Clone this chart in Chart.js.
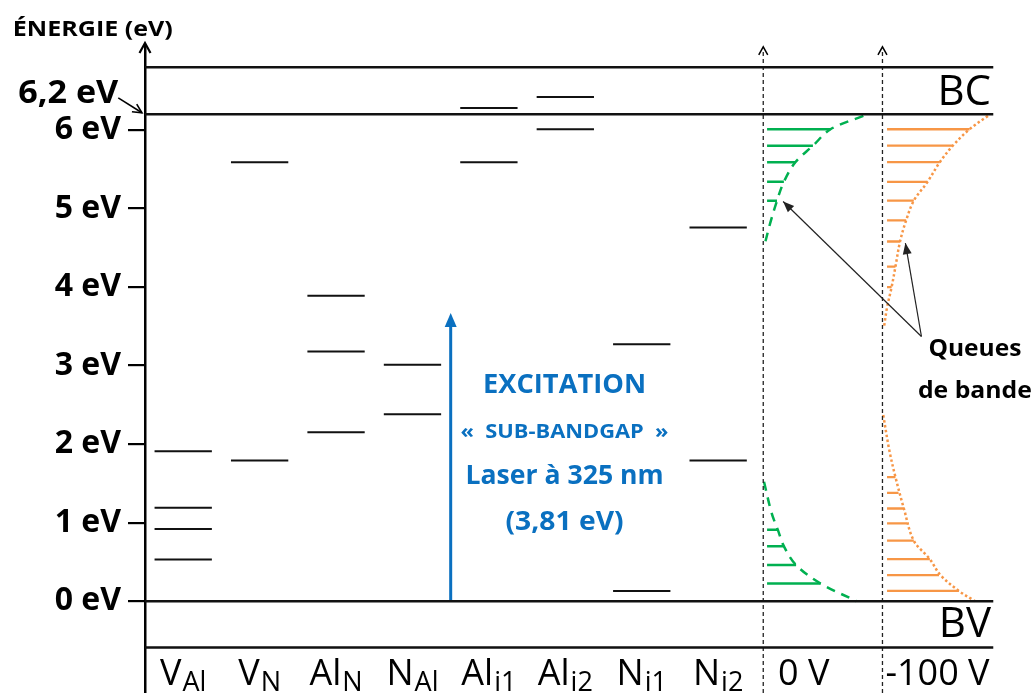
<!DOCTYPE html>
<html>
<head>
<meta charset="utf-8">
<script src="https://cdn.jsdelivr.net/npm/chart.js@4"></script>
<style>
html, body { margin: 0; padding: 0; background: #fff; }
</style>
</head>
<body>
<canvas id="energie" width="1035" height="693"></canvas>
<script>
// defect names : main letters + subscript
var defectBase = ['V', 'V', 'Al', 'N', 'Al', 'Al', 'N', 'N'];
var defectSub = ['Al', 'N', 'N', 'Al', 'i1', 'i2', 'i1', 'i2'];
// levels in eV, one list per defect
var defectLevels = [
    [1.91, 1.19, 0.92, 0.53],
    [5.59, 1.79],
    [3.89, 3.18, 2.15],
    [3.01, 2.38],
    [6.28, 5.59],
    [6.42, 6.01],
    [3.27, 0.13],
    [4.76, 1.79]
];
var bandLines = [6.8, 6.2, 0, -0.59];
var yTicks = [0, 1, 2, 3, 4, 5, 6];
var gapLabel = '6,2 eV';
var laserTop = 3.67;
var laserText = ['EXCITATION', '\u00ab  SUB-BANDGAP  \u00bb', 'Laser \u00e0 325 nm', '(3,81 eV)'];
var biasLabels = ['0 V', '-100 V'];

// band tails at 0 V (energy, width from the bias axis)
var cb0E = [6.18, 6.01, 5.80, 5.59, 5.34, 5.10, 4.81, 4.51];
var cb0W = [1.31, 0.88, 0.65, 0.42, 0.27, 0.18, 0.09, 0.01];
var vb0E = [1.52, 1.12, 0.91, 0.70, 0.46, 0.225, 0];
var vb0W = [0.01, 0.11, 0.19, 0.27, 0.43, 0.75, 1.22];
var cb0HatchE = [6.01, 5.80, 5.59, 5.34, 5.10];
var cb0HatchW = [0.88, 0.65, 0.42, 0.27, 0.18];
var vb0HatchE = [0.91, 0.70, 0.46, 0.225];
var vb0HatchW = [0.19, 0.27, 0.43, 0.75];

// band tails at -100 V
var cb100E = [6.18, 6.01, 5.80, 5.59, 5.34, 5.10, 4.85, 4.58, 4.26, 4.00, 3.74, 3.49];
var cb100W = [1.38, 1.14, 0.92, 0.75, 0.59, 0.41, 0.31, 0.23, 0.17, 0.12, 0.06, 0.02];
var vb100E = [2.37, 1.92, 1.58, 1.18, 0.77, 0.535, 0.33, 0.13, 0];
var vb100W = [0.01, 0.09, 0.17, 0.28, 0.41, 0.62, 0.76, 1.00, 1.21];
var cb100HatchE = [6.01, 5.80, 5.59, 5.34, 5.10, 4.85, 4.58, 4.26, 4.00];
var cb100HatchW = [1.14, 0.92, 0.75, 0.59, 0.41, 0.31, 0.23, 0.17, 0.12];
var vb100HatchE = [1.58, 1.38, 1.18, 0.99, 0.77, 0.535, 0.33, 0.13];
var vb100HatchW = [0.17, 0.21, 0.28, 0.32, 0.41, 0.62, 0.74, 1.00];

var FONT = 'Open Sans';
var GREEN = '#00b050', ORANGE = '#f79646', BLUE = '#0a70c0';
var bias0 = 8.09, bias100 = 9.65, bandEnd = 11.1;
var yMin = -1.17, yMax = 7.07;

function segments(list) {
    var out = [];
    list.forEach(function (s) {
        out.push({x: s[0], y: s[1]}, {x: s[2], y: s[3]}, {x: s[2], y: null});
    });
    return out;
}
function curve(base, E, W) {
    return E.map(function (e, k) { return {x: base + W[k], y: e}; });
}
function hatch(base, start, E, W) {
    return segments(E.map(function (e, k) { return [base + start, e, base + W[k], e]; }));
}
function lineSet(data, color, width, extra) {
    var d = {data: data, showLine: true, borderColor: color, borderWidth: width,
             pointRadius: 0, spanGaps: false, tension: 0, fill: false};
    for (var k in extra) d[k] = extra[k];
    return d;
}

var levelSegs = [];
defectLevels.forEach(function (lv, i) {
    lv.forEach(function (e) { levelSegs.push([i + 0.5 - 0.375, e, i + 0.5 + 0.375, e]); });
});
var bandSegs = bandLines.map(function (e) { return [0, e, bandEnd, e]; });

var datasets = [
    lineSet(segments(bandSegs), '#111', 2.5),
    lineSet(segments(levelSegs), '#111', 2),
    lineSet(segments([[bias0, yMin, bias0, 7.0], [bias100, yMin, bias100, 7.0]]), '#222', 1.3, {borderDash: [4, 3]}),
    lineSet(segments([[4.0, 0, 4.0, laserTop - 0.12]]), BLUE, 3),
    lineSet(curve(bias0, cb0E, cb0W), GREEN, 2.5, {borderDash: [9, 7], tension: 0.35}),
    lineSet(curve(bias0, vb0E, vb0W), GREEN, 2.5, {borderDash: [9, 7], tension: 0.35}),
    lineSet(hatch(bias0, 0.05, cb0HatchE, cb0HatchW), GREEN, 2.5),
    lineSet(hatch(bias0, 0.05, vb0HatchE, vb0HatchW), GREEN, 2.5),
    lineSet(curve(bias100, cb100E, cb100W), ORANGE, 2.5, {borderDash: [2.5, 2.5], tension: 0.35}),
    lineSet(curve(bias100, vb100E, vb100W), ORANGE, 2.5, {borderDash: [2.5, 2.5], tension: 0.35}),
    lineSet(hatch(bias100, 0.06, cb100HatchE, cb100HatchW), ORANGE, 2.3),
    lineSet(hatch(bias100, 0.06, vb100HatchE, vb100HatchW), ORANGE, 2.3)
];

function openHead(c, x, y, ang, len, half) {
    var bx = x - Math.cos(ang) * len, by = y - Math.sin(ang) * len;
    var nx = -Math.sin(ang) * half, ny = Math.cos(ang) * half;
    c.beginPath();
    c.moveTo(bx + nx, by + ny); c.lineTo(x, y); c.lineTo(bx - nx, by - ny);
    c.stroke();
}
function fillHead(c, x, y, ang, len, half) {
    var bx = x - Math.cos(ang) * len, by = y - Math.sin(ang) * len;
    var nx = -Math.sin(ang) * half, ny = Math.cos(ang) * half;
    c.beginPath();
    c.moveTo(x, y); c.lineTo(bx + nx, by + ny); c.lineTo(bx - nx, by - ny);
    c.closePath(); c.fill();
}
function arrowLine(c, x1, y1, x2, y2, len, half) {
    c.beginPath(); c.moveTo(x1, y1); c.lineTo(x2, y2); c.stroke();
    fillHead(c, x2, y2, Math.atan2(y2 - y1, x2 - x1), len, half);
}
// text squeezed / stretched to a given width, anchored by its centre or its left/right edge
function fitText(c, t, x, y, font, w, align) {
    c.font = font;
    var m = c.measureText(t).width;
    var k = w / m;
    var left = align === 'left' ? x : (align === 'right' ? x - w : x - w / 2);
    c.save();
    c.textAlign = 'left';
    c.translate(left, y);
    c.scale(k, 1);
    c.fillText(t, 0, 0);
    c.restore();
}

var extras = {
    id: 'extras',
    afterDraw: function (chart) {
        var c = chart.ctx, sx = chart.scales.x, sy = chart.scales.y;
        var px = function (v) { return sx.getPixelForValue(v); };
        var py = function (v) { return sy.getPixelForValue(v); };
        c.save();
        c.lineCap = 'butt';
        c.textBaseline = 'alphabetic';

        // energy axis arrow
        c.strokeStyle = '#000'; c.lineWidth = 2.2;
        openHead(c, px(0), py(yMax) - 3, -Math.PI / 2, 10, 5.5);
        // bias axes arrows
        c.lineWidth = 1.5;
        openHead(c, px(bias0), py(7.06), -Math.PI / 2, 8, 4.5);
        openHead(c, px(bias100), py(7.06), -Math.PI / 2, 8, 4.5);

        // laser arrow head
        c.fillStyle = BLUE;
        fillHead(c, px(4.0), py(laserTop), -Math.PI / 2, 14, 6);

        // title of energy axis
        c.fillStyle = '#000';
        fitText(c, '\u00c9NERGIE (eV)', px(-1.73), py(7.2), 'bold 21px "' + FONT + '"', 160, 'left');

        // 6,2 eV marker
        fitText(c, gapLabel, px(-0.35), py(6.34), 'bold 32px "' + FONT + '"', 100, 'right');
        c.lineWidth = 1.6;
        c.beginPath(); c.moveTo(px(-0.35), py(6.41)); c.lineTo(px(-0.04), py(6.22)); c.stroke();
        var a = Math.atan2(py(6.22) - py(6.41), px(-0.04) - px(-0.35));
        openHead(c, px(-0.04), py(6.22), a, 9, 4.5);

        // BC / BV
        c.font = '42px "' + FONT + '"';
        c.textAlign = 'right';
        c.fillText('BC', px(11.07), py(6.32));
        c.fillText('BV', px(11.07), py(-0.46));

        // defect names with subscripts
        var yb = py(-1.07);
        defectBase.forEach(function (b, i) {
            c.font = '36px "' + FONT + '"';
            var wb = c.measureText(b).width;
            c.font = '27px "' + FONT + '"';
            var ws = c.measureText(defectSub[i]).width;
            var x0 = px(i + 0.5) - (wb + ws + 1) / 2;
            c.textAlign = 'left';
            c.font = '36px "' + FONT + '"';
            c.fillText(b, x0, yb);
            c.font = '27px "' + FONT + '"';
            c.fillText(defectSub[i], x0 + wb + 1, yb + 6);
        });
        c.font = '36px "' + FONT + '"';
        c.textAlign = 'center';
        c.fillText(biasLabels[0], px(8.62), yb);
        c.fillText(biasLabels[1], px(10.37), yb);

        // laser text
        c.fillStyle = BLUE;
        var lb = [2.65, 2.08, 1.49, 0.905];
        var fs = [27, 20, 27, 27];
        var lw = [163, 208, 198, 118];
        laserText.forEach(function (t, k) {
            fitText(c, t, px(5.49), py(lb[k]), 'bold ' + fs[k] + 'px "' + FONT + '"', lw[k], 'center');
        });

        // band tails annotation
        c.fillStyle = '#000';
        fitText(c, 'Queues', px(10.86), py(3.12), 'bold 23px "' + FONT + '"', 93, 'center');
        fitText(c, 'de bande', px(10.86), py(2.59), 'bold 23px "' + FONT + '"', 114, 'center');
        c.strokeStyle = '#222'; c.fillStyle = '#222'; c.lineWidth = 1.2;
        arrowLine(c, px(10.16), py(3.37), px(8.35), py(5.09), 11, 4.5);
        arrowLine(c, px(10.16), py(3.37), px(9.95), py(4.56), 11, 4.5);
        c.restore();
    }
};

new Chart(document.getElementById('energie'), {
    type: 'scatter',
    data: {datasets: datasets},
    options: {
        responsive: false,
        animation: false,
        events: [],
        layout: {padding: {top: 46, left: 0, right: 0, bottom: 0}},
        plugins: {legend: {display: false}, tooltip: {enabled: false}},
        scales: {
            x: {type: 'linear', min: 0, max: 11.646, display: false},
            y: {
                type: 'linear', min: yMin, max: yMax,
                afterBuildTicks: function (axis) {
                    axis.ticks = yTicks.map(function (v) { return {value: v}; });
                },
                afterFit: function (axis) {
                    axis.width = 145;
                    axis.paddingTop = 0;
                    axis.paddingBottom = 0;
                },
                ticks: {
                    color: '#000', padding: 7,
                    font: {family: FONT, weight: 'bold', size: 32},
                    callback: function (v) { return v + ' eV'; }
                },
                grid: {drawOnChartArea: false, drawTicks: true, tickLength: 17, color: '#000', lineWidth: 2.2},
                border: {display: true, color: '#000', width: 2.5}
            }
        }
    },
    plugins: [extras]
});
</script>
</body>
</html>
